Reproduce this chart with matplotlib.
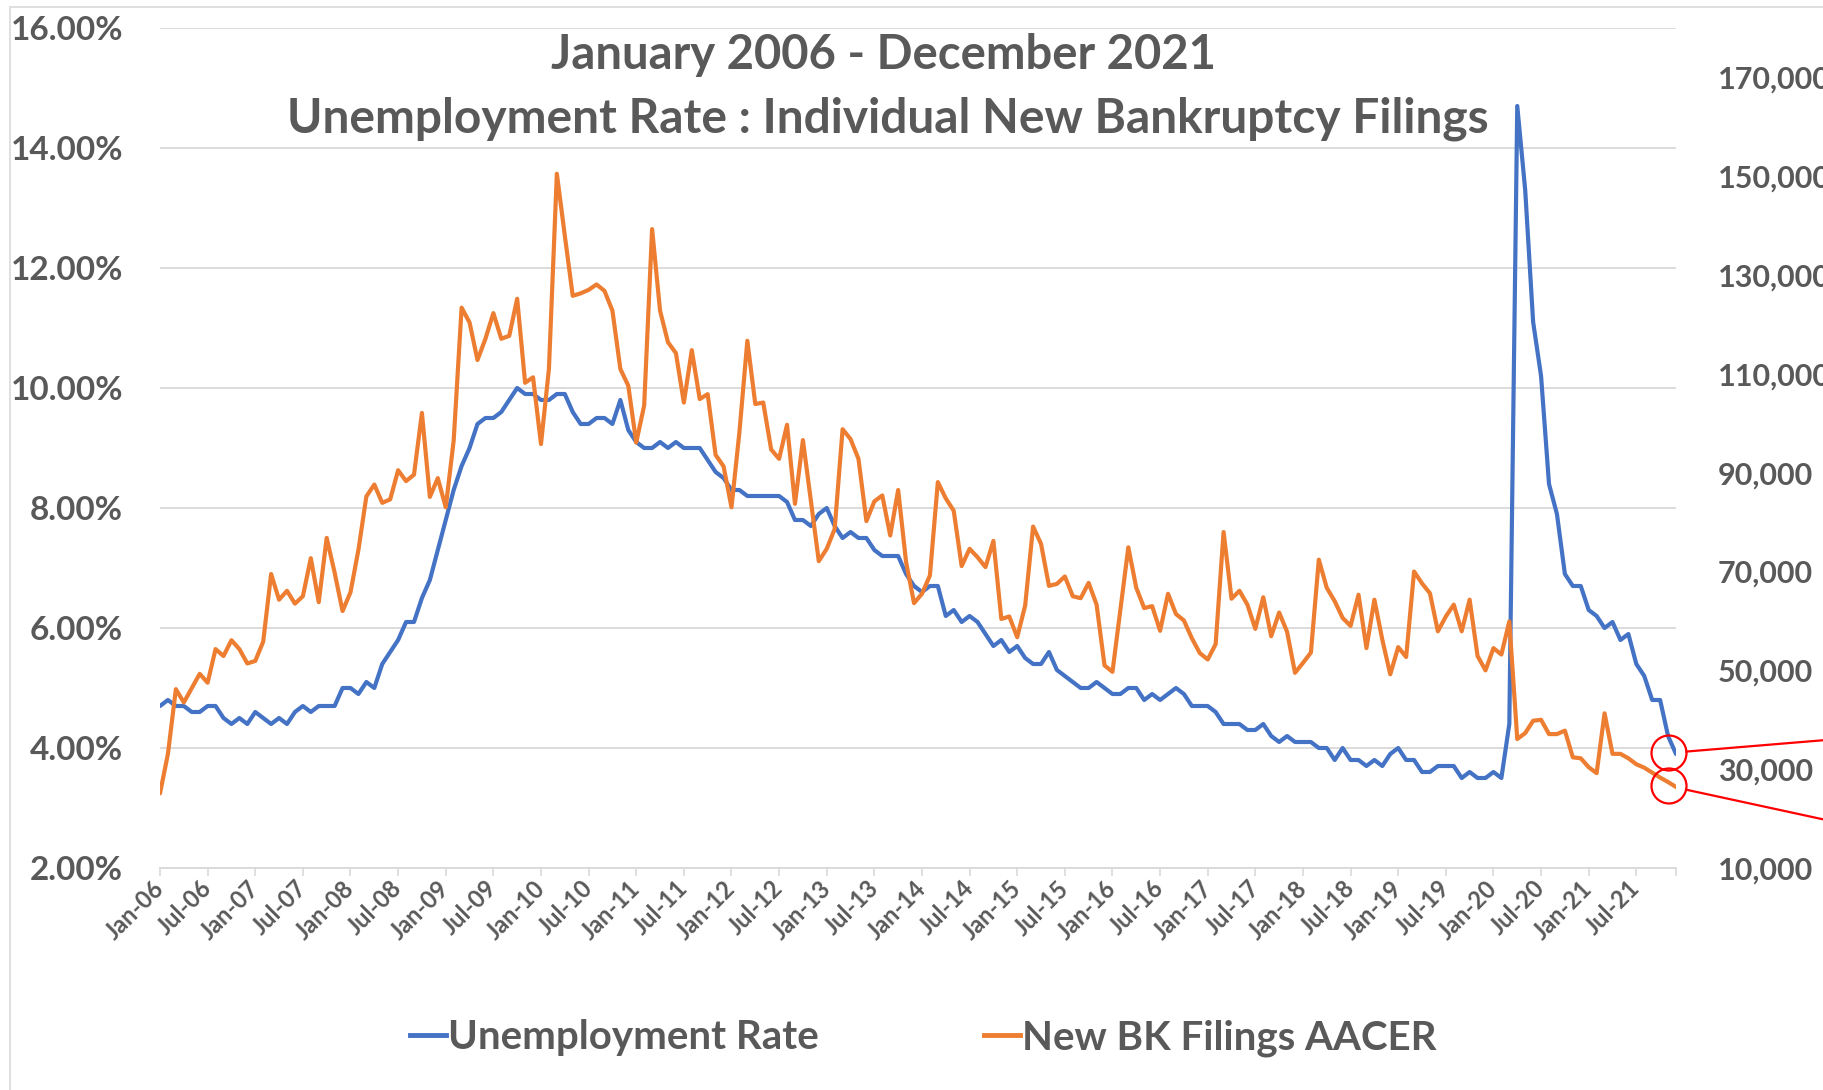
import matplotlib
matplotlib.use("Agg")
import matplotlib.pyplot as plt
from matplotlib.lines import Line2D
from matplotlib.patches import Circle, Rectangle
from matplotlib.ticker import FixedLocator, FuncFormatter
import numpy as np

# ---------------- data ----------------
years = list(range(2006, 2022))
month_abbr = ["Jan", "Feb", "Mar", "Apr", "May", "Jun",
              "Jul", "Aug", "Sep", "Oct", "Nov", "Dec"]
months = [f"{m}-{str(y)[2:]}" for y in years for m in month_abbr]

unemployment_rate = [
    4.7, 4.8, 4.7, 4.7, 4.6, 4.6, 4.7, 4.7, 4.5, 4.4, 4.5, 4.4,   # 2006
    4.6, 4.5, 4.4, 4.5, 4.4, 4.6, 4.7, 4.6, 4.7, 4.7, 4.7, 5.0,   # 2007
    5.0, 4.9, 5.1, 5.0, 5.4, 5.6, 5.8, 6.1, 6.1, 6.5, 6.8, 7.3,   # 2008
    7.8, 8.3, 8.7, 9.0, 9.4, 9.5, 9.5, 9.6, 9.8, 10.0, 9.9, 9.9,  # 2009
    9.8, 9.8, 9.9, 9.9, 9.6, 9.4, 9.4, 9.5, 9.5, 9.4, 9.8, 9.3,   # 2010
    9.1, 9.0, 9.0, 9.1, 9.0, 9.1, 9.0, 9.0, 9.0, 8.8, 8.6, 8.5,   # 2011
    8.3, 8.3, 8.2, 8.2, 8.2, 8.2, 8.2, 8.1, 7.8, 7.8, 7.7, 7.9,   # 2012
    8.0, 7.7, 7.5, 7.6, 7.5, 7.5, 7.3, 7.2, 7.2, 7.2, 6.9, 6.7,   # 2013
    6.6, 6.7, 6.7, 6.2, 6.3, 6.1, 6.2, 6.1, 5.9, 5.7, 5.8, 5.6,   # 2014
    5.7, 5.5, 5.4, 5.4, 5.6, 5.3, 5.2, 5.1, 5.0, 5.0, 5.1, 5.0,   # 2015
    4.9, 4.9, 5.0, 5.0, 4.8, 4.9, 4.8, 4.9, 5.0, 4.9, 4.7, 4.7,   # 2016
    4.7, 4.6, 4.4, 4.4, 4.4, 4.3, 4.3, 4.4, 4.2, 4.1, 4.2, 4.1,   # 2017
    4.1, 4.1, 4.0, 4.0, 3.8, 4.0, 3.8, 3.8, 3.7, 3.8, 3.7, 3.9,   # 2018
    4.0, 3.8, 3.8, 3.6, 3.6, 3.7, 3.7, 3.7, 3.5, 3.6, 3.5, 3.5,   # 2019
    3.6, 3.5, 4.4, 14.7, 13.3, 11.1, 10.2, 8.4, 7.9, 6.9, 6.7, 6.7,  # 2020
    6.3, 6.2, 6.0, 6.1, 5.8, 5.9, 5.4, 5.2, 4.8, 4.8, 4.2, 3.9,   # 2021
]

new_bk_filings = [
    25100, 33100, 46200, 43500, 46400, 49300, 47500, 54300, 52900, 56100, 54300, 51400,        # 2006
    51900, 55800, 69500, 64300, 66100, 63500, 65000, 72700, 63800, 76800, 69800, 62000,        # 2007
    65800, 74400, 85200, 87600, 83900, 84600, 90500, 88300, 89600, 102100, 85100, 88900,       # 2008
    83000, 96500, 123400, 120400, 112800, 117100, 122300, 117100, 117700, 125200, 108200, 109300,  # 2009
    95800, 111000, 150500, 138000, 125800, 126300, 127000, 128100, 126800, 122800, 111000, 107600,  # 2010
    96100, 103600, 139300, 122800, 116400, 114200, 104200, 114800, 104900, 105900, 93600, 91300,   # 2011
    83000, 98200, 116700, 103900, 104200, 94700, 92800, 99700, 83700, 96600, 84300, 72100,     # 2012
    74600, 78600, 98800, 96800, 92800, 80200, 84200, 85400, 77300, 86500, 71900, 63600,        # 2013
    65500, 69200, 88100, 84800, 82300, 71100, 74600, 72900, 70900, 76200, 60400, 60900,        # 2014
    56700, 63100, 79100, 75600, 67100, 67500, 69000, 65000, 64600, 67700, 63300, 51000,        # 2015
    49700, 62300, 74900, 66700, 62600, 63000, 58000, 65500, 61400, 60100, 56500, 53500,        # 2016
    52200, 55300, 78000, 64500, 66100, 63300, 58400, 64800, 56900, 61700, 57800, 49500,        # 2017
    51500, 53600, 72400, 66700, 64000, 60600, 59000, 65300, 54500, 64300, 56200, 49200,        # 2018
    54700, 52700, 70000, 67600, 65600, 57900, 60900, 63300, 57900, 64300, 52900, 50000,        # 2019
    54500, 53200, 59900, 36100, 37300, 39800, 40000, 37100, 37100, 37800, 32400, 32200,        # 2020
    30400, 29200, 41300, 33100, 33100, 32200, 31000, 30300, 29300, 28300, 27400, 26400,        # 2021
]

left_ticks = [2, 4, 6, 8, 10, 12, 14, 16]
right_ticks = [10000, 30000, 50000, 70000, 90000, 110000, 130000, 150000, 170000]
title_lines = ["January 2006 - December 2021",
               "Unemployment Rate : Individual New Bankruptcy Filings"]
series_names = ["Unemployment Rate", "New BK Filings AACER"]

# ---------------- style ----------------
BLUE = "#4472C4"
ORANGE = "#ED7D31"
GRID = "#D9D9D9"
TXT = "#595959"
FONT = ["Lato", "DejaVu Sans"]
plt.rcParams["font.family"] = FONT
plt.rcParams["font.weight"] = "bold"

W, H = 1824, 1090
fig = plt.figure(figsize=(W / 100, H / 100), dpi=100)
fig.patch.set_facecolor("white")

# chart-area border (cropped: only top and left visible)
fig.patches.append(Rectangle((10 / W, -0.05), 1.2, (H - 7) / H + 0.05,
                             transform=fig.transFigure, fill=False,
                             edgecolor=GRID, linewidth=1.2, zorder=0))

left, right, bottom, top = 160, 1676, 868, 28
ax = fig.add_axes([left / W, (H - bottom) / H, (right - left) / W, (bottom - top) / H])
ax2 = ax.twinx()

x = np.arange(len(months))
ax.plot(x, unemployment_rate, color=BLUE, lw=3.0, solid_joinstyle="round",
        solid_capstyle="round", zorder=3)
ax2.plot(x, new_bk_filings, color=ORANGE, lw=3.0, solid_joinstyle="round",
         solid_capstyle="round", zorder=3)

ax.set_xlim(0, len(months) - 1)
ax.set_ylim(2, 16)
ax2.set_ylim(10000, 180000)

ax.yaxis.set_major_locator(FixedLocator(left_ticks))
ax.yaxis.set_major_formatter(FuncFormatter(lambda v, p: f"{v:.2f}%"))
ax2.yaxis.set_major_locator(FixedLocator(right_ticks))
ax2.yaxis.set_major_formatter(FuncFormatter(lambda v, p: f"{int(v):,}"))

tick_pos = list(range(0, len(months), 6)) + [len(months) - 1]
tick_lab = [months[i] for i in range(0, len(months), 6)] + [""]
ax.set_xticks(tick_pos)
ax.set_xticklabels(tick_lab, rotation=45, ha="right", va="center",
                   rotation_mode="anchor", fontsize=17, color=TXT, fontweight="bold")
ax.tick_params(axis="x", direction="out", length=6, width=1.2, color=GRID, pad=6)

ax.grid(axis="y", color=GRID, lw=1.3, zorder=0)
ax.set_axisbelow(True)
for a in (ax, ax2):
    for s in ("left", "right", "top", "bottom"):
        a.spines[s].set_visible(False)
ax.spines["bottom"].set_visible(True)
ax.spines["bottom"].set_color(GRID)
ax.spines["bottom"].set_linewidth(1.3)

ax.tick_params(axis="y", length=0, pad=26.5, labelsize=24, labelcolor=TXT)
ax2.tick_params(axis="y", length=0, pad=30, labelsize=22, labelcolor=TXT)
for lab in ax.get_yticklabels() + ax2.get_yticklabels():
    lab.set_fontweight("bold")

# title
fig.text(884 / W, (H - 55) / H, title_lines[0], ha="center", va="center",
         fontsize=34, color=TXT, fontweight="bold")
fig.text(888 / W, (H - 119) / H, title_lines[1], ha="center", va="center",
         fontsize=34.5, color=TXT, fontweight="bold")

# legend
handles = [Line2D([0], [0], color=BLUE, lw=3.5), Line2D([0], [0], color=ORANGE, lw=3.5)]
leg = fig.legend(handles, series_names, loc="center", bbox_to_anchor=(923 / W, (H - 1038) / H),
                 ncol=2, frameon=False, fontsize=29, handlelength=0.9, handletextpad=0.05,
                 columnspacing=4.1)
for t in leg.get_texts():
    t.set_color(TXT)
    t.set_fontweight("bold")

# red highlight circles on the final points, with leader lines to the right edge
fig.canvas.draw()
r = 17.5
ends = [
    (ax.transData.transform((x[-1], unemployment_rate[-1])), 13),
    (ax2.transData.transform((x[-1], new_bk_filings[-1])), -34),
]
for (px, py), dy in ends:
    cx, cy = px - 7, py + 1
    fig.patches.append(Circle((cx, cy), r, transform=None, fill=False,
                              edgecolor="#FF0000", lw=1.6, zorder=10))
    ex, ey = W + 2, cy + dy
    ang = np.arctan2(ey - cy, ex - cx)
    sx, sy = cx + r * np.cos(ang), cy + r * np.sin(ang)
    fig.lines.append(Line2D([sx, ex], [sy, ey], transform=None, color="#FF0000",
                            lw=1.6, zorder=10))

fig.savefig("out.png", dpi=100, facecolor="white")
